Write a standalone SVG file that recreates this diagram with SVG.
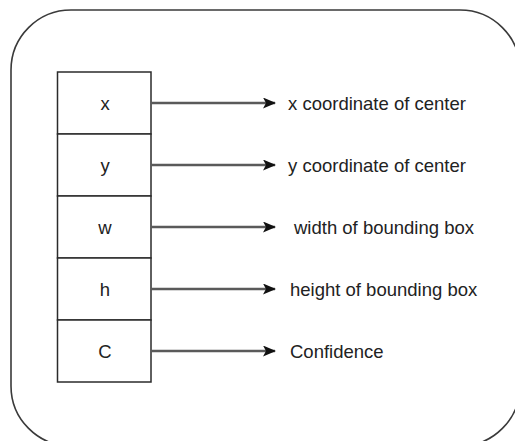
<svg xmlns="http://www.w3.org/2000/svg" width="515" height="441" viewBox="0 0 515 441">
  <style>
    .frame { fill: #ffffff; stroke: #3a3a3a; stroke-width: 1.6; }
    .cell { fill: #ffffff; stroke: #2b2b2b; stroke-width: 1.5; }
    .txt { font-family: "Liberation Sans", Arial, sans-serif; font-size: 18.5px; fill: #222222; }
    .cell-txt { text-anchor: middle; }
    .edge { stroke: #5a5a5a; stroke-width: 2.4; fill: none; marker-end: url(#arrow); }
  </style>
  <defs>
    <marker id="arrow" viewBox="0 0 13 11" refX="12" refY="5.5" markerWidth="13" markerHeight="11" markerUnits="userSpaceOnUse" orient="auto">
      <path d="M0,0 L13,5.5 L0,11 L3,5.5 z" fill="#111111"/>
    </marker>
  </defs>

  <rect width="515" height="441" fill="#ffffff"/>
  <!-- rounded outer frame -->
  <rect id="frame" class="frame" x="11" y="10" width="509" height="436" rx="60" ry="60"/>

  <!-- stacked field cells -->
  <g id="node-x">
    <rect class="cell" x="57.5" y="72" width="93.5" height="62"/>
    <text class="txt cell-txt" x="105" y="110">x</text>
  </g>
  <g id="node-y">
    <rect class="cell" x="57.5" y="134" width="93.5" height="62"/>
    <text class="txt cell-txt" x="105" y="172">y</text>
  </g>
  <g id="node-w">
    <rect class="cell" x="57.5" y="196" width="93.5" height="62"/>
    <text class="txt cell-txt" x="105" y="234">w</text>
  </g>
  <g id="node-h">
    <rect class="cell" x="57.5" y="258" width="93.5" height="62"/>
    <text class="txt cell-txt" x="105" y="296">h</text>
  </g>
  <g id="node-c">
    <rect class="cell" x="57.5" y="320" width="93.5" height="62"/>
    <text class="txt cell-txt" x="105" y="358">C</text>
  </g>

  <!-- connectors -->
  <g id="connectors">
    <line class="edge" x1="151" y1="103" x2="275" y2="103"/>
    <line class="edge" x1="151" y1="165" x2="275" y2="165"/>
    <line class="edge" x1="151" y1="227" x2="275" y2="227"/>
    <line class="edge" x1="151" y1="289" x2="275" y2="289"/>
    <line class="edge" x1="151" y1="351" x2="275" y2="351"/>
  </g>

  <!-- descriptions -->
  <g id="label-x"><text class="txt" x="288" y="110">x coordinate of center</text></g>
  <g id="label-y"><text class="txt" x="288" y="172">y coordinate of center</text></g>
  <g id="label-w"><text class="txt" x="294" y="234">width of bounding box</text></g>
  <g id="label-h"><text class="txt" x="290" y="296">height of bounding box</text></g>
  <g id="label-c"><text class="txt" x="290" y="358">Confidence</text></g>
</svg>
